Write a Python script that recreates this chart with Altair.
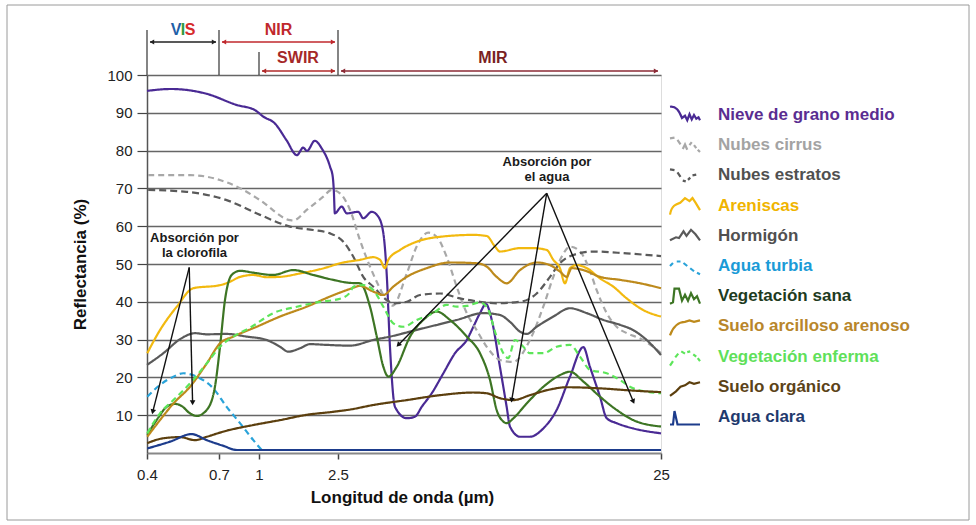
import altair as alt
import pandas as pd

FONT = "Liberation Sans"

names = ["Nieve de grano medio", "Nubes cirrus", "Nubes estratos", "Areniscas", "Hormigón",
         "Agua turbia", "Vegetación sana", "Suelo arcilloso arenoso", "Vegetación enferma",
         "Suelo orgánico", "Agua clara"]
line_colors = ["#4a2a94", "#a8a8a8", "#5a5a5a", "#f2b90f", "#5a5a5a", "#2aa3d9",
               "#3d7524", "#bd8a1c", "#5de55a", "#5c3f0e", "#1d3c8c"]
label_colors = ["#5a2d91", "#a3a3a3", "#505050", "#f0b400", "#505050", "#1b9bd7",
                "#1e3b1e", "#b8862b", "#5fe05a", "#5c4318", "#1f3a6e"]
dashes = [[1, 0], [6, 4], [7, 4], [1, 0], [1, 0], [6, 4], [1, 0], [1, 0], [6, 4], [1, 0], [1, 0]]

# wavelength (µm) / reflectance (%)
nieve_x = [0.40, 0.50, 0.65, 0.83, 0.97, 1.08, 1.30, 1.52, 1.72, 1.84, 1.91, 2.06, 2.19, 2.35, 2.40,
           2.42, 2.44, 2.76, 3.11, 3.91, 4.26, 4.85, 5.31, 5.66, 5.89, 6.12, 6.47, 7.29, 7.86, 8.33,
           9.03, 9.84, 10.65, 11.47, 11.93, 12.39, 12.81, 13.21, 13.78, 14.25, 14.48, 15.18, 15.87,
           16.80, 17.73, 18.66, 19.59, 20.05, 20.75, 21.22, 21.91, 23.07, 25.0]
nieve_y = [95.8, 96.3, 95.0, 92.1, 90.7, 89.0, 87.2, 82.8, 78.8, 80.8, 79.9, 82.6, 80.6, 75.7, 73.1,
           69.6, 63.4, 65.2, 63.4, 63.8, 62.1, 63.8, 62.5, 58.1, 47.5, 28.1, 12.2, 9.2, 9.6, 12.2,
           15.8, 21.1, 26.4, 29.9, 33.4, 37.0, 39.4, 35.2, 22.8, 12.2, 7.0, 4.3, 4.3,
           6.5, 11.4, 20.2, 28.0, 22.8, 14.9, 9.2, 7.9, 6.5, 5.2]

cirrus_x = [0.405, 0.58, 0.86, 1.02, 1.59, 1.65, 1.905, 2.22, 2.38, 2.64, 3.34, 4.03, 4.73, 5.43, 5.85,
            6.31, 7.29, 7.98, 8.79, 9.38, 10.07, 10.77, 11.47, 12.16, 12.86, 13.79, 14.69, 15.87, 16.80,
            17.50, 18.08, 18.66, 19.36, 19.94, 20.52, 21.22, 21.91, 22.61, 23.54, 24.46, 25.0]
cirrus_y = [73.5, 73.5, 70.0, 66.9, 61.6, 61.5, 64.3, 67.8, 69.6, 68.7, 64.3, 56.3, 49.3, 43.5, 40.5,
            39.0, 47.5, 54.6, 58.3, 57.2, 51.9, 44.0, 37.0, 32.5, 28.1, 24.6, 24.1, 29.9, 38.7,
            46.6, 51.9, 54.6, 53.3, 49.3, 43.1, 37.0, 33.4, 31.7, 30.3, 28.1, 26.4]

estratos_x = [0.405, 0.565, 0.7575, 1.02, 1.59, 2.03, 2.35, 2.87, 3.57, 4.26, 4.96, 5.89, 6.35, 7.29,
              8.21, 9.61, 11.0, 12.39, 13.55, 15.18, 16.34, 17.27, 17.96, 18.89, 20.28, 22.61, 25.0]
estratos_y = [69.6, 69.1, 66.9, 63.0, 59.9, 59.0, 58.1, 55.9, 51.9, 46.6, 44.0, 40.5, 39.6, 40.0,
              41.8, 42.2, 40.9, 40.0, 39.6, 40.0, 42.2, 46.6, 50.2, 52.4, 53.3, 52.8, 52.1]

areniscas_x = [0.401, 0.454, 0.524, 0.593, 0.7075, 0.7825, 0.8575, 0.9575, 1.146, 1.399, 1.779, 2.285,
               2.64, 4.03, 4.96, 5.43, 5.77, 6.0, 6.82, 7.98, 9.61, 11.93, 12.86, 13.44, 13.79, 15.18,
               16.11, 17.04, 17.50, 17.96, 18.31, 18.66, 19.13, 19.83, 20.75, 21.68, 22.61, 23.77, 25.0]
areniscas_y = [26.4, 32.5, 38.7, 43.6, 44.4, 45.3, 46.6, 47.1, 46.5, 46.6, 47.5, 49.1,
               50.2, 51.1, 51.8, 51.1, 48.9, 51.1, 53.7, 55.9, 57.2, 57.7, 57.4, 54.6, 53.3, 54.2,
               54.2, 53.7, 51.1, 48.9, 44.9, 48.9, 49.7, 48.9, 46.2, 44.0, 40.9, 37.8, 36.1]

hormigon_x = [0.4, 0.468, 0.5375, 0.6, 0.649, 0.7575, 0.9075, 1.146, 1.399, 1.556, 1.779, 1.968, 2.285,
              3.34, 4.96, 6.12, 8.44, 10.77, 12.62, 13.79, 14.48, 15.18, 15.64, 16.34, 17.50, 18.66,
              19.83, 20.99, 22.15, 23.07, 24.0, 25.0]
hormigon_y = [23.3, 26.4, 30.1, 31.7, 31.4, 31.5, 30.8, 29.9, 28.1, 26.8, 27.7, 28.8, 28.6,
              28.4, 29.9, 30.8, 33.0, 35.2, 37.0, 36.5, 34.7, 32.1, 31.5, 33.4, 36.1, 38.3,
              37.0, 35.2, 33.9, 32.5, 29.9, 25.9]

turbia_x = [0.401, 0.454, 0.51, 0.551, 0.607, 0.676, 0.7575, 0.8575, 0.9575, 1.082]
turbia_y = [14.9, 18.0, 20.2, 21.1, 20.2, 17.1, 12.2, 7.9, 3.4, 0.3]

sana_x = [0.401, 0.44, 0.482, 0.517, 0.545, 0.579, 0.607, 0.649, 0.683, 0.7075, 0.745, 0.795, 0.8575,
          0.9575, 1.27, 1.65, 2.03, 2.41, 3.34, 4.03, 4.73, 5.20, 5.66, 6.01, 6.59, 7.52, 8.44, 9.38,
          10.30, 11.47, 12.39, 13.09, 13.55, 14.02, 14.25, 14.72, 15.64, 16.80, 17.96, 18.66, 19.59,
          20.75, 21.91, 23.07, 25.0]
sana_y = [4.8, 8.7, 12.2, 13.0, 12.4, 10.5, 9.8, 11.4, 17.5, 28.1, 40.5, 47.1, 48.2,
          47.7, 47.1, 48.4, 47.1, 45.8, 45.0, 44.9, 38.7, 30.8, 22.8, 20.2, 22.8, 30.8, 35.2, 37.4,
          35.2, 30.8, 26.4, 19.3, 11.4, 8.3, 7.9, 9.2, 13.1, 17.5, 20.6, 21.5, 18.9,
          14.9, 11.4, 8.7, 7.0]

arcilloso_x = [0.401, 0.454, 0.51, 0.579, 0.649, 0.7075, 0.8075, 0.9825, 1.399, 1.905, 2.35, 3.34, 4.03,
               4.96, 5.66, 6.35, 7.29, 8.68, 10.30, 12.16, 12.86, 13.55, 14.25, 15.18, 16.34, 17.27,
               17.96, 18.43, 18.78, 19.59, 20.75, 22.15, 23.54, 25.0]
arcilloso_y = [4.3, 8.7, 13.1, 17.5, 23.7, 29.0, 30.8, 33.4, 36.1, 38.7, 41.4, 43.4, 44.2,
               42.7, 41.8, 44.0, 46.6, 48.9, 50.4, 50.2, 49.3, 46.6, 44.9, 48.4, 50.4, 49.7,
               48.0, 46.6, 48.9, 48.4, 46.6, 45.8, 44.9, 43.6]

enferma_x = [0.401, 0.454, 0.51, 0.579, 0.649, 0.7075, 0.8075, 0.945, 1.27, 1.72, 2.16, 2.64, 3.34,
             3.57, 4.26, 4.96, 5.66, 6.35, 7.05, 7.98, 9.14, 10.07, 10.77, 11.47, 12.39, 12.86, 13.55,
             14.02, 14.36, 14.83, 15.41, 15.87, 16.80, 17.73, 18.66, 19.36, 20.05, 21.22, 22.15,
             23.07, 25.0]
enferma_y = [5.2, 10.5, 14.0, 18.4, 23.7, 28.1, 30.8, 33.4, 37.0, 38.7, 40.0, 40.8, 42.5,
             44.0, 44.4, 43.1, 38.7, 34.3, 33.4, 35.2, 37.0, 39.2, 38.7, 38.9, 39.8, 38.7, 30.8,
             26.4, 25.1, 29.9, 28.1, 26.4, 26.4, 28.1, 28.6, 25.5, 22.0, 21.1, 19.3,
             17.1, 15.8]

organico_x = [0.401, 0.468, 0.5375, 0.6, 0.649, 0.7575, 0.9575, 1.399, 1.905, 2.41, 3.34, 4.96, 7.29,
              9.61, 11.93, 12.86, 13.79, 14.72, 15.87, 17.27, 18.43, 20.75, 23.07, 25.0]
organico_y = [2.6, 3.9, 4.2, 3.4, 4.3, 5.9, 7.4, 8.7, 10.1, 10.9, 11.5, 12.7, 14.0,
              15.3, 16.0, 15.8, 14.5, 14.0, 15.3, 16.8, 17.4, 17.1, 16.5, 16.1]

clara_x = [0.401, 0.496, 0.586, 0.649, 0.7325, 0.8325, 25.0]
clara_y = [1.2, 3.0, 5.0, 3.4, 1.9, 0.8, 0.8]

series_x = [nieve_x, cirrus_x, estratos_x, areniscas_x, hormigon_x, turbia_x, sana_x,
            arcilloso_x, enferma_x, organico_x, clara_x]
series_y = [nieve_y, cirrus_y, estratos_y, areniscas_y, hormigon_y, turbia_y, sana_y,
            arcilloso_y, enferma_y, organico_y, clara_y]

# x-axis ticks (piecewise scale)
tick_values = [0.4, 0.7, 1, 2.5, 25]
tick_pixels = [0, 72, 112, 191, 514]

# legend icons (custom symbol paths)
icons = [
    "M-1,-0.55 C-0.6,-0.6 -0.4,-0.3 -0.2,0.2 L0,0.05 L0.15,0.35 L0.3,-0.05 L0.45,0.3 L0.6,0 L0.75,0.25 L0.9,0.15 L1,0.35",
    "M-1,-0.45 L-0.7,-0.5 M-0.5,-0.35 L-0.3,-0.05 M-0.15,0.25 L0,-0.05 L0.15,0.3 M0.3,0 L0.45,-0.2 M0.6,0 L0.75,0.2 M0.85,0.3 L1,0.45",
    "M-1,-0.4 L-0.7,-0.35 M-0.5,-0.2 L-0.3,0.1 M-0.15,0.35 L0.05,0.4 M0.2,0.3 L0.35,0.15 M0.5,0 L0.75,-0.05",
    "M-1,0.6 C-0.9,0 -0.6,-0.1 -0.3,-0.2 L0,-0.5 L0.3,-0.3 L0.5,-0.5 L0.7,-0.2 L1,0.3",
    "M-1,0.3 L-0.6,0.1 L-0.4,0.15 L-0.1,-0.3 L0.1,0 L0.4,-0.4 L0.7,-0.1 L1,0.3",
    "M-1,0 L-0.8,-0.2 M-0.55,-0.3 L-0.3,-0.3 M-0.1,-0.2 L0.15,0 M0.35,0.15 L0.6,0.35 M0.8,0.45 L1,0.55",
    "M-1,0.5 L-0.8,0.4 L-0.7,-0.5 L-0.4,-0.5 L-0.2,0.3 L0,-0.1 L0.2,0.3 L0.4,-0.2 L0.6,0.2 L0.8,0 L1,0.5",
    "M-1,0.6 C-0.8,0 -0.4,-0.3 0,-0.3 L0.3,-0.4 L0.6,-0.3 L1,-0.4",
    "M-1,0.6 L-0.8,0.3 M-0.65,0.05 L-0.45,-0.2 M-0.25,-0.35 L0,-0.2 M0.15,-0.3 L0.35,-0.35 M0.55,-0.15 L0.75,0 M0.85,0.1 L1,0.3",
    "M-1,0.6 L-0.6,0.3 L-0.3,0 L0,-0.1 L0.3,-0.3 L0.6,-0.2 L1,-0.3",
    "M-1,0.5 L-0.8,0.5 L-0.7,-0.4 L-0.5,0.5 L1,0.5",
]

# annotation arrows (wavelength, reflectance)
arrow_x1 = [0.576, 0.576, 17.04, 17.04, 17.04]
arrow_y1 = [49.1, 49.1, 68.7, 68.7, 68.7]
arrow_x2 = [0.424, 0.590, 6.70, 14.60, 23.07]
arrow_y2 = [10.9, 13.3, 28.6, 14.0, 13.6]
arrow_angle = [194, 179, 224, 190, 157]

# spectral regions on top
region_labels = ["NIR", "SWIR", "MIR"]
region_start = [0.7, 1, 2.5]
region_end = [2.5, 2.5, 25]
region_colors = ["#c0282d", "#b02a2a", "#8b2a35"]

rows = []
for n, xs, ys in zip(names, series_x, series_y):
    for a, b in zip(xs, ys):
        rows.append({"name": n, "wl": a, "refl": b})
df = pd.DataFrame(rows)

xscale = alt.Scale(domain=tick_values, range=tick_pixels, nice=False, zero=False)
yscale = alt.Scale(domain=[0, 100], nice=False)

lines = alt.Chart(df).mark_line(strokeWidth=2.2, interpolate="monotone").encode(
    x=alt.X("wl:Q", scale=xscale,
            axis=alt.Axis(values=tick_values, format="~g", grid=False, tickSize=6,
                          labelFlush=False, labelBound=False, labelOverlap=False,
                          labelPadding=8, labelFontSize=15, labelColor="#222", labelFont=FONT,
                          domainColor="#888", domainWidth=2, tickColor="#444", tickWidth=1.5,
                          title="Longitud de onda (µm)", titleFont=FONT, titleFontSize=17,
                          titleFontWeight="bold", titleColor="#111", titleX=255, titleY=44,
                          titleBaseline="middle", titleAlign="center")),
    y=alt.Y("refl:Q", scale=yscale,
            axis=alt.Axis(values=list(range(10, 101, 10)), grid=True, gridColor="#666",
                          gridWidth=1.6, tickSize=10, tickColor="#444", tickWidth=1.2,
                          labelFlush=False, labelPadding=5, labelFontSize=15, labelColor="#222",
                          labelFont=FONT, domainColor="#555", domainWidth=1.5,
                          title="Reflectancia (%)", titleFont=FONT, titleFontSize=17,
                          titleFontWeight="bold", titleColor="#111", titleX=-67, titleY=189,
                          titleAngle=-90, titleBaseline="middle", titleAlign="center")),
    color=alt.Color("name:N", scale=alt.Scale(domain=names, range=line_colors), legend=None),
    strokeDash=alt.StrokeDash("name:N", scale=alt.Scale(domain=names, range=dashes), legend=None),
)

arr_df = pd.DataFrame({"x1": arrow_x1, "y1": arrow_y1, "x2": arrow_x2, "y2": arrow_y2,
                       "ang": arrow_angle})
arr_lines = alt.Chart(arr_df).mark_rule(color="#111", strokeWidth=1.4).encode(
    x=alt.X("x1:Q", scale=xscale), y=alt.Y("y1:Q", scale=yscale), x2="x2:Q", y2="y2:Q")
arr_heads = alt.Chart(arr_df).mark_point(shape="triangle-up", filled=True, size=32,
                                         color="#111", opacity=1).encode(
    x=alt.X("x2:Q", scale=xscale), y=alt.Y("y2:Q", scale=yscale),
    angle=alt.Angle("ang:Q", scale=None))

# top region markers
vlong = pd.DataFrame({"wl": [0.4, 0.7, 2.5]})
vshort = pd.DataFrame({"wl": [1]})
vlines_long = alt.Chart(vlong).mark_rule(color="#333", strokeWidth=1.2).encode(
    x=alt.X("wl:Q", scale=xscale), y=alt.value(-45), y2=alt.value(0))
vlines_short = alt.Chart(vshort).mark_rule(color="#333", strokeWidth=1.2).encode(
    x=alt.X("wl:Q", scale=xscale), y=alt.value(-23), y2=alt.value(0))

reg_df = pd.DataFrame({"lab": ["VIS"] + region_labels, "s": [0.4] + region_start,
                       "e": [0.7] + region_end, "c": ["#222"] + region_colors,
                       "row": ["top", "top", "bottom", "bottom"]})
arrow_layers = []
for row, yy in [("top", -33), ("bottom", -4)]:
    sub = reg_df[reg_df["row"] == row]
    base = alt.Chart(sub)
    arrow_layers.append(base.mark_rule(strokeWidth=1.4, xOffset=3, x2Offset=-3).encode(
        x=alt.X("s:Q", scale=xscale), x2="e:Q", y=alt.value(yy),
        color=alt.Color("c:N", scale=None)))
    arrow_layers.append(base.mark_point(shape="triangle-left", filled=True, size=26, opacity=1,
                                        xOffset=5).encode(
        x=alt.X("s:Q", scale=xscale), y=alt.value(yy), color=alt.Color("c:N", scale=None)))
    arrow_layers.append(base.mark_point(shape="triangle-right", filled=True, size=26, opacity=1,
                                        xOffset=-5).encode(
        x=alt.X("e:Q", scale=xscale), y=alt.value(yy), color=alt.Color("c:N", scale=None)))

main = alt.layer(lines, arr_lines, arr_heads, vlines_long, vlines_short, *arrow_layers)

# texts (decorations in pixel space)
txt_df = pd.DataFrame({
    "t": ["V", "I", "S", "NIR", "SWIR", "MIR"],
    "px": [29, 36, 43, 131.5, 151, 346],
    "py": [-45, -45, -45, -45, -17, -17],
    "c": ["#1f5fa8", "#2e9b3e", "#d62b2b", "#c0282d", "#a52828", "#7a1f24"],
})
top_text = alt.Chart(txt_df).mark_text(font=FONT, fontSize=16, fontWeight="bold",
                                       align="center", baseline="middle").encode(
    x=alt.X("px:Q", scale=None, axis=None), y=alt.Y("py:Q", scale=None, axis=None),
    text="t:N", color=alt.Color("c:N", scale=None))

ann_df = pd.DataFrame({
    "t": ["Absorción por", "la clorofila", "Absorción por", "el agua"],
    "px": [47.5, 47.5, 400, 400],
    "py": [163, 178, 87, 102],
})
ann_text = alt.Chart(ann_df).mark_text(font=FONT, fontSize=13, fontWeight="bold",
                                       align="center", baseline="middle", color="#1a1a1a").encode(
    x=alt.X("px:Q", scale=None, axis=None), y=alt.Y("py:Q", scale=None, axis=None), text="t:N")

leg_df = pd.DataFrame({"name": names, "lc": line_colors, "tc": label_colors, "icon": icons})
leg_y = alt.Y("name:N", sort=names,
              scale=alt.Scale(type="point", domain=names, range=[40, 342], padding=0),
              axis=None)
leg_text = alt.Chart(leg_df).mark_text(font=FONT, fontSize=17, fontWeight="bold", align="left",
                                       baseline="middle").encode(
    x=alt.value(571), y=leg_y, text="name:N", color=alt.Color("tc:N", scale=None))
leg_icon = alt.Chart(leg_df).mark_point(
    filled=False, size=900, strokeWidth=2.2, opacity=1).encode(
    x=alt.value(538), y=leg_y, shape=alt.Shape("icon:N", scale=None),
    color=alt.Color("lc:N", scale=None))

frame = alt.Chart(pd.DataFrame({"a": [0]})).mark_rect(
    fillOpacity=0, stroke="#9a9a9a", strokeWidth=1).encode(
    x=alt.value(-140), x2=alt.value(822), y=alt.value(-70), y2=alt.value(445))

chart = alt.layer(main, top_text, ann_text, leg_text, leg_icon, frame).resolve_scale(
    y="independent", color="independent", x="independent", shape="independent"
).properties(
    width=514, height=378,
    autosize=alt.AutoSizeParams(type="none"),
    padding={"left": 147, "top": 75, "right": 315, "bottom": 72},
).configure_view(stroke="#555", strokeWidth=1.5).configure(font=FONT)

chart.save("out.html", embed_options={"renderer": "svg", "actions": False})
